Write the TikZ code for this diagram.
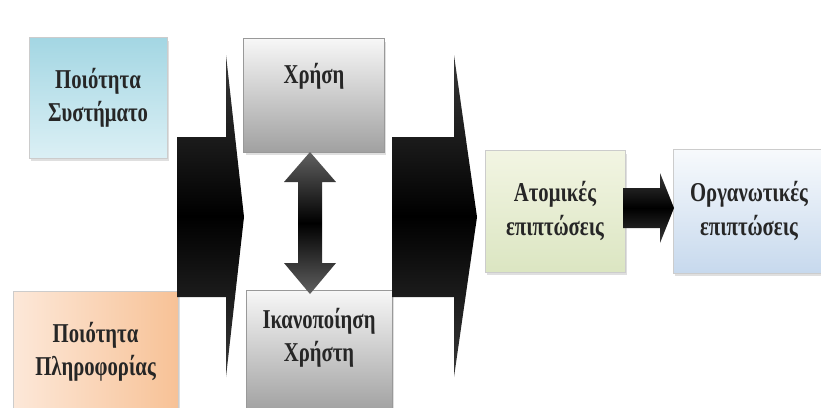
\documentclass[tikz,border=0pt]{standalone}
\usepackage{fontspec}
\setmainfont[FakeStretch=0.76]{Liberation Serif}
\usetikzlibrary{shadows}
\definecolor{SysTopClr}{rgb}{0.64,0.84,0.89}
\definecolor{SysBotClr}{rgb}{0.86,0.94,0.96}
\definecolor{InfoLightClr}{rgb}{0.99,0.91,0.85}
\definecolor{InfoDarkClr}{rgb}{0.97,0.76,0.59}
\definecolor{GrayTopClr}{rgb}{0.97,0.97,0.97}
\definecolor{GrayBotClr}{rgb}{0.63,0.63,0.63}
\definecolor{IndTopClr}{rgb}{0.95,0.96,0.89}
\definecolor{IndBotClr}{rgb}{0.86,0.90,0.76}
\definecolor{OrgTopClr}{rgb}{0.97,0.98,0.99}
\definecolor{OrgBotClr}{rgb}{0.78,0.85,0.93}

\begin{document}
\begin{tikzpicture}[x=0.02cm,y=-0.02cm,
  box/.style={draw=black!20,line width=0.4pt,align=center,inner sep=0pt,
    font=\fontsize{15.5}{19}\selectfont\bfseries,text=black!85,
    drop shadow={shadow xshift=0.04cm,shadow yshift=-0.07cm,opacity=0.25}},
  blockarrow/.style={top color=black!78,bottom color=black!78,middle color=black},
  dblarrow/.style={top color=black!62,bottom color=black!62,middle color=black}]
\useasboundingbox (0,0) rectangle (821,407);

\node[box,top color=SysTopClr,bottom color=SysBotClr,
  minimum width=2.76cm,minimum height=2.42cm] (sys) at (98,97.5) {Ποιότητα\\Συστήματο};
\node[box,left color=InfoLightClr,right color=InfoDarkClr,
  minimum width=3.3cm,minimum height=2.42cm] (info) at (95.5,351.5) {Ποιότητα\\Πληροφορίας};

\node[box,draw=black!40,top color=GrayTopClr,bottom color=GrayBotClr,
  minimum width=2.82cm,minimum height=2.28cm,text height=10pt,text depth=23pt] (use) at (314,95) {Χρήση};
\node[box,draw=black!40,top color=GrayTopClr,bottom color=GrayBotClr,
  minimum width=2.92cm,minimum height=2.44cm,text height=24pt,text depth=12pt] (sat) at (319,351) {Ικανοποίηση\\Χρήστη};

\node[box,top color=IndTopClr,bottom color=IndBotClr,
  minimum width=2.8cm,minimum height=2.44cm] (indiv) at (555,211) {Ατομικές\\επιπτώσεις};
\node[box,top color=OrgTopClr,bottom color=OrgBotClr,
  minimum width=3.04cm,minimum height=2.48cm] (org) at (749,211) {Οργανωτικές\\επιπτώσεις};

\shade[blockarrow] (177,137) -- (226,137) -- (226,55) -- (244,217) -- (226,377) -- (226,297) -- (177,297) -- cycle;
\shade[blockarrow] (392,137) -- (454,137) -- (454,55) -- (477,217) -- (454,377) -- (454,297) -- (392,297) -- cycle;

\shade[dblarrow] (310,152) -- (336,182) -- (322,182) -- (322,263) -- (336,263) -- (310,294)
  -- (284,263) -- (298,263) -- (298,182) -- (284,182) -- cycle;

\shade[blockarrow] (623,188) -- (660,188) -- (660,173) -- (674,208) -- (660,243) -- (660,228) -- (623,228) -- cycle;

\end{tikzpicture}
\end{document}
